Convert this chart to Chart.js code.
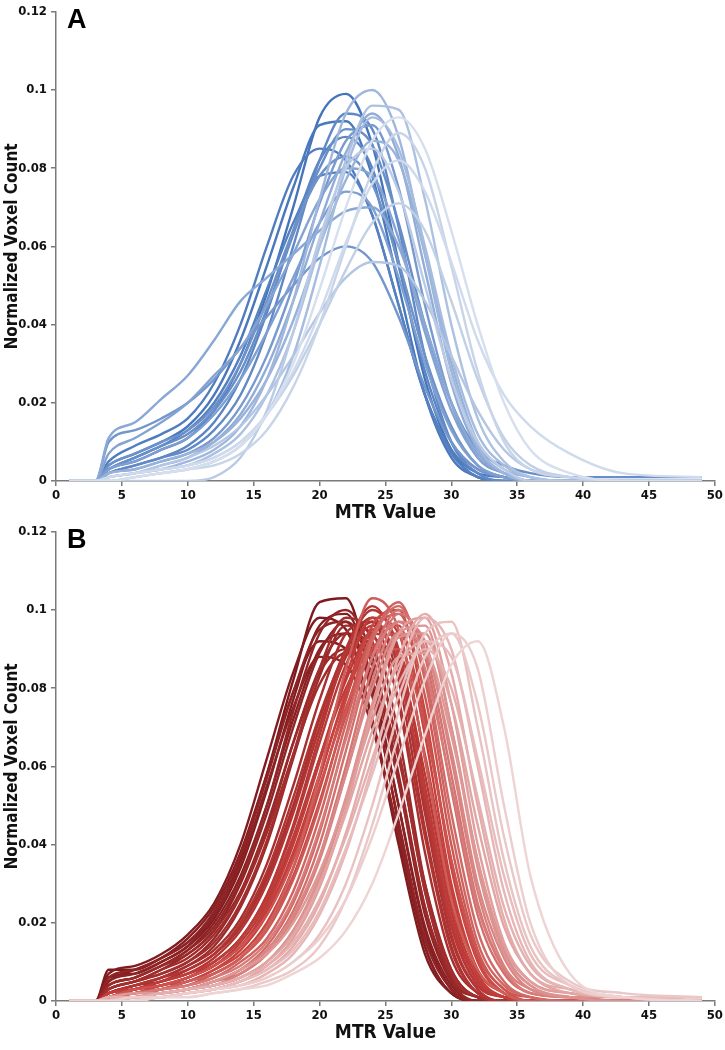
<!DOCTYPE html>
<html>
<head>
<meta charset="utf-8">
<script src="https://cdn.jsdelivr.net/npm/chart.js@4.4.1/dist/chart.umd.min.js"></script>
<style>
    body { margin: 0; background: #fff; width: 725px; height: 1050px; position: relative; overflow: hidden;
           font-family: 'Liberation Sans Narrow', 'DejaVu Sans Condensed', Arial, sans-serif; }
    .wrap { position: absolute; left: 0; width: 725px; height: 530px; }
    #wrapA { top: 0; }
    #wrapB { top: 520px; }
    .tag { position: absolute; left: 67px; font-weight: bold; font-size: 27px; font-family: 'Liberation Sans', Arial, sans-serif; }
</style>
</head>
<body>
<div class="wrap" id="wrapA"><canvas id="chartA"></canvas></div>
<div class="wrap" id="wrapB"><canvas id="chartB"></canvas></div>
<div class="tag" style="top:4px">A</div>
<div class="tag" style="top:524px">B</div>

<script>
// MTR bins shared by every curve
const mtrValues = [1, 3, 4, 6, 8, 10, 12, 14, 16, 18, 20, 22, 24, 26, 28, 30, 32, 34, 36, 39, 43, 49];

// panel A, darkest first
const curvesA = [
    [0,0,.003,.005,.008,.011,.018,.030,.048,.070,.093,.099,.086,.056,.026,.008,.001,0,0,0,0,0],
    [0,0,.004,.007,.010,.014,.022,.036,.055,.075,.091,.092,.078,.050,.022,.006,.001,0,0,0,0,0],
    [0,0,.005,.009,.012,.016,.025,.040,.060,.078,.085,.082,.068,.045,.022,.008,.002,.001,0,0,0,0],
    [0,0,.003,.006,.009,.013,.020,.032,.049,.066,.078,.079,.068,.045,.022,.007,.001,0,0,0,0,0],
    [0,0,.002,.004,.006,.009,.015,.026,.043,.064,.082,.088,.080,.055,.028,.010,.003,.001,0,0,0,0],
    [0,0,.002,.004,.006,.008,.013,.022,.038,.060,.082,.094,.090,.065,.032,.010,.002,0,0,0,0,0],
    [0,0,.003,.006,.009,.012,.018,.028,.044,.063,.080,.090,.086,.066,.040,.020,.008,.004,.002,.001,.001,.001],
    [0,0,.004,.007,.010,.013,.019,.030,.046,.064,.078,.083,.076,.056,.032,.014,.004,.001,0,0,0,0],
    [0,0,.010,.013,.016,.020,.026,.034,.042,.050,.057,.060,.056,.042,.024,.010,.003,.001,0,0,0,0],
    [0,0,.002,.003,.005,.007,.011,.019,.032,.050,.071,.087,.091,.075,.045,.020,.006,.002,0,0,0,0],
    [0,0,.003,.005,.008,.011,.017,.026,.038,.052,.066,.074,.070,.052,.030,.013,.004,.001,0,0,0,0],
    [0,0,.007,.011,.015,.020,.027,.034,.045,.058,.072,.080,.078,.062,.038,.018,.006,.002,0,0,0,0],
    [0,0,.011,.015,.021,.027,.036,.046,.052,.058,.064,.069,.070,.060,.040,.020,.007,.002,0,0,0,0],
    [0,0,.001,.002,.004,.006,.010,.017,.029,.046,.066,.084,.094,.083,.054,.025,.008,.002,0,0,0,0],
    [0,0,.002,.003,.005,.007,.010,.016,.026,.041,.060,.077,.087,.082,.058,.030,.010,.003,.001,0,0,0],
    [0,0,.001,.002,.003,.005,.008,.014,.026,.046,.072,.094,.100,.088,.058,.028,.009,.002,0,0,0,0],
    [0,0,0,.001,.002,.003,.005,.009,.017,.032,.055,.080,.093,.085,.060,.032,.012,.004,.001,0,0,0],
    [0,0,.001,.002,.003,.004,.007,.012,.022,.038,.060,.082,.096,.095,.072,.040,.016,.005,.001,0,0,0],
    [0,0,.001,.002,.004,.006,.009,.014,.022,.032,.043,.052,.056,.055,.046,.032,.018,.008,.003,.001,0,0],
    [0,0,0,0,0,0,.001,.006,.018,.038,.062,.080,.085,.074,.050,.026,.010,.003,0,0,0,0],
    [0,0,.001,.002,.003,.004,.006,.010,.017,.027,.040,.054,.066,.071,.064,.046,.026,.011,.004,.001,0,0],
    [0,0,0,.001,.002,.003,.004,.007,.013,.024,.040,.060,.079,.089,.080,.055,.028,.010,.003,.001,0,0],
    [0,0,.001,.002,.003,.004,.006,.010,.017,.028,.043,.061,.076,.082,.074,.056,.036,.022,.014,.007,.002,.001],
    [0,0,0,.001,.002,.003,.005,.009,.017,.030,.049,.070,.087,.093,.085,.064,.040,.020,.008,.002,0,0]
];

// panel B, darkest first
const curvesB = [
    [0,0,.008,.008,.011,.015,.022,.036,.058,.082,.102,.103,.080,.045,.014,.002,0,0,0,0,0,0],
    [0,0,.007,.009,.012,.017,.025,.040,.062,.084,.098,.095,.072,.040,.012,.002,0,0,0,0,0,0],
    [0,0,.006,.007,.010,.014,.021,.034,.054,.077,.096,.099,.082,.050,.018,.003,0,0,0,0,0,0],
    [0,0,.005,.008,.011,.016,.024,.038,.058,.079,.092,.090,.072,.042,.014,.002,0,0,0,0,0,0],
    [0,0,.004,.006,.009,.013,.020,.032,.050,.072,.090,.094,.080,.050,.019,.004,0,0,0,0,0,0],
    [0,0,.005,.007,.010,.014,.022,.035,.055,.075,.088,.086,.070,.043,.016,.003,0,0,0,0,0,0],
    [0,0,.006,.008,.011,.015,.023,.037,.057,.079,.095,.097,.078,.046,.016,.003,0,0,0,0,0,0],
    [0,0,.003,.005,.008,.012,.018,.030,.048,.070,.089,.097,.086,.056,.022,.005,.001,0,0,0,0,0],
    [0,0,.004,.006,.009,.013,.019,.031,.050,.074,.094,.100,.088,.058,.024,.005,0,0,0,0,0,0],
    [0,0,.003,.005,.007,.010,.016,.027,.044,.066,.085,.094,.090,.064,.028,.006,.001,0,0,0,0,0],
    [0,0,.004,.006,.009,.012,.018,.028,.045,.066,.084,.090,.082,.056,.024,.006,.001,0,0,0,0,0],
    [0,0,.002,.004,.006,.009,.014,.024,.040,.062,.083,.096,.094,.068,.030,.008,.001,0,0,0,0,0],
    [0,0,.003,.005,.008,.011,.017,.027,.043,.063,.081,.089,.084,.062,.030,.008,.001,0,0,0,0,0],
    [0,0,.003,.005,.007,.010,.015,.025,.041,.063,.085,.098,.092,.064,.028,.007,.001,0,0,0,0,0],
    [0,0,.002,.004,.006,.009,.013,.021,.035,.055,.077,.094,.097,.076,.038,.011,.002,0,0,0,0,0],
    [0,0,.002,.003,.005,.008,.012,.019,.032,.050,.072,.090,.098,.082,.044,.014,.002,0,0,0,0,0],
    [0,0,.002,.004,.005,.008,.012,.019,.031,.049,.070,.088,.097,.085,.048,.016,.003,0,0,0,0,0],
    [0,0,.002,.004,.006,.008,.012,.020,.033,.052,.073,.089,.093,.077,.042,.013,.002,0,0,0,0,0],
    [0,0,.001,.003,.005,.007,.011,.018,.030,.048,.070,.090,.101,.088,.050,.017,.003,0,0,0,0,0],
    [0,0,.001,.003,.004,.006,.010,.016,.027,.045,.068,.089,.100,.090,.055,.020,.004,.001,0,0,0,0],
    [0,0,.002,.003,.005,.007,.010,.016,.027,.044,.066,.086,.096,.086,.052,.019,.004,.001,0,0,0,0],
    [0,0,.001,.003,.004,.006,.009,.015,.025,.041,.062,.082,.094,.088,.058,.023,.005,.001,0,0,0,0],
    [0,0,.002,.003,.005,.007,.010,.016,.026,.042,.062,.080,.090,.083,.054,.021,.005,.001,0,0,0,0],
    [0,0,.001,.002,.004,.006,.009,.014,.024,.040,.061,.083,.098,.094,.062,.025,.006,.001,0,0,0,0],
    [0,0,.002,.003,.004,.006,.009,.014,.023,.038,.058,.078,.091,.089,.063,.028,.007,.001,0,0,0,0],
    [0,0,.001,.002,.003,.005,.008,.013,.022,.037,.057,.079,.095,.096,.068,.030,.008,.002,0,0,0,0],
    [0,0,.001,.002,.004,.005,.008,.012,.020,.034,.054,.077,.096,.100,.074,.034,.010,.002,0,0,0,0],
    [0,0,.001,.002,.003,.005,.007,.011,.019,.032,.051,.073,.090,.094,.072,.036,.011,.002,0,0,0,0],
    [0,0,.001,.003,.004,.006,.009,.014,.022,.036,.055,.075,.089,.090,.070,.036,.012,.003,0,0,0,0],
    [0,0,.001,.002,.003,.004,.007,.011,.018,.031,.050,.074,.094,.099,.078,.040,.013,.003,.001,0,0,0],
    [0,0,.001,.002,.003,.005,.007,.011,.019,.034,.058,.085,.103,.095,.062,.026,.008,.002,0,0,0,0],
    [0,0,.001,.002,.003,.004,.006,.010,.016,.028,.047,.071,.093,.102,.082,.044,.015,.004,.001,0,0,0],
    [0,0,.001,.001,.002,.003,.005,.008,.014,.025,.043,.068,.092,.101,.084,.048,.018,.005,.001,0,0,0],
    [0,0,0,.001,.002,.003,.005,.008,.013,.023,.040,.064,.088,.100,.088,.054,.022,.007,.002,.001,0,0],
    [0,0,0,.001,.002,.003,.005,.007,.012,.021,.037,.060,.085,.099,.090,.058,.025,.008,.002,.001,0,0],
    [0,0,.001,.002,.003,.004,.006,.009,.015,.026,.044,.067,.088,.097,.085,.055,.024,.008,.002,.001,0,0],
    [0,0,0,.001,.002,.003,.004,.007,.012,.021,.036,.058,.082,.097,.092,.062,.028,.009,.003,.001,0,0],
    [0,0,.001,.001,.002,.003,.005,.008,.013,.022,.037,.058,.080,.094,.090,.064,.030,.011,.003,.001,0,0],
    [0,0,.001,.001,.002,.003,.004,.006,.010,.018,.031,.051,.075,.093,.094,.070,.036,.013,.004,.001,.001,0],
    [0,0,0,.001,.002,.003,.004,.006,.010,.018,.032,.052,.076,.094,.096,.070,.034,.012,.004,.001,0,0],
    [0,0,.001,.002,.002,.003,.005,.008,.012,.020,.033,.051,.072,.088,.089,.068,.036,.014,.005,.002,.001,0],
    [0,0,0,.001,.001,.002,.003,.005,.009,.016,.029,.049,.074,.094,.098,.076,.040,.015,.005,.002,.001,0],
    [0,0,.001,.001,.002,.003,.004,.006,.010,.017,.030,.048,.069,.086,.092,.076,.045,.019,.007,.002,.001,.001],
    [0,0,0,.001,.001,.002,.003,.005,.008,.014,.025,.043,.066,.088,.099,.084,.050,.021,.007,.003,.001,0],
    [0,0,.001,.001,.002,.003,.004,.006,.009,.015,.026,.042,.062,.081,.090,.080,.052,.024,.009,.003,.001,.001],
    [0,0,0,0,.001,.002,.003,.004,.007,.012,.022,.038,.060,.084,.098,.090,.060,.028,.010,.003,.001,0],
    [0,0,0,.001,.001,.002,.003,.005,.008,.013,.023,.039,.058,.078,.092,.088,.062,.032,.012,.004,.001,.001],
    [0,0,0,.001,.001,.002,.003,.004,.006,.010,.017,.030,.050,.074,.094,.097,.070,.036,.014,.004,.001,0],
    [0,0,0,0,.001,.001,.002,.003,.005,.008,.014,.026,.045,.068,.088,.094,.076,.042,.017,.005,.002,.001],
    [0,0,0,.001,.001,.002,.003,.004,.006,.010,.016,.026,.042,.062,.082,.094,.085,.050,.020,.004,.001,0],
    [0,0,0,0,.001,.001,.002,.003,.004,.007,.011,.018,.030,.048,.068,.086,.092,.070,.032,.007,.001,0]
];

const yTicks = [0, 0.02, 0.04, 0.06, 0.08, 0.1, 0.12];

const blueStops = [[68, 116, 186], [135, 165, 212], [214, 223, 238]];
const redStops = [[125, 26, 30], [198, 64, 60], [238, 212, 212]];

function shade(stops, t) {
    const seg = t < 0.5 ? 0 : 1;
    const f = seg === 0 ? t / 0.5 : (t - 0.5) / 0.5;
    const a = stops[seg], b = stops[seg + 1];
    const c = a.map((v, i) => Math.round(v + (b[i] - v) * f));
    return `rgb(${c[0]},${c[1]},${c[2]})`;
}

const fontFam = "'Liberation Sans Narrow', 'DejaVu Sans Condensed', Arial, sans-serif";
const axisGrey = '#7a7a7a';

function makeChart(id, curves, stops) {
    const n = curves.length;
    const sets = curves.map((arr, i) => ({
        data: mtrValues.map((x, k) => ({ x: x, y: arr[k] })),
        borderColor: shade(stops, i / (n - 1)),
        borderWidth: 2.4,
        pointRadius: 0,
        fill: false,
        cubicInterpolationMode: 'monotone'
    })).reverse(); // lightest first = drawn on top

    return new Chart(document.getElementById(id), {
        type: 'line',
        data: { datasets: sets },
        options: {
            responsive: true,
            maintainAspectRatio: false,
            animation: false,
            layout: { padding: { top: 8, right: 8, left: 0, bottom: 0 } },
            plugins: { legend: { display: false }, tooltip: { enabled: false } },
            scales: {
                x: {
                    type: 'linear', min: 0, max: 50,
                    ticks: { stepSize: 5, color: '#111', padding: 2, font: { family: fontFam, size: 13, weight: 'bold' } },
                    grid: { drawOnChartArea: false, drawTicks: true, tickLength: 5, color: axisGrey, lineWidth: 1.5 },
                    border: { display: true, color: axisGrey, width: 1.5 },
                    title: { display: true, text: 'MTR Value', color: '#111', padding: { top: 0, bottom: 6 },
                             font: { family: fontFam, size: 19, weight: 'bold' } },
                    afterFit: s => { s.height = 49; }
                },
                y: {
                    min: 0, max: 0.12,
                    afterBuildTicks: s => { s.ticks = yTicks.map(v => ({ value: v })); },
                    ticks: { color: '#111', padding: 4, callback: v => String(+v.toFixed(2)),
                             font: { family: fontFam, size: 13, weight: 'bold' } },
                    grid: { drawOnChartArea: false, drawTicks: true, tickLength: 5, color: axisGrey, lineWidth: 1.5 },
                    border: { display: true, color: axisGrey, width: 1.5 },
                    title: { display: true, text: 'Normalized Voxel Count', color: '#111', padding: { top: 2, bottom: 0 },
                             font: { family: fontFam, size: 17, weight: 'bold' } },
                    afterFit: s => { s.width = 56; }
                }
            }
        }
    });
}

makeChart('chartA', curvesA, blueStops);
makeChart('chartB', curvesB, redStops);
</script>
</body>
</html>
